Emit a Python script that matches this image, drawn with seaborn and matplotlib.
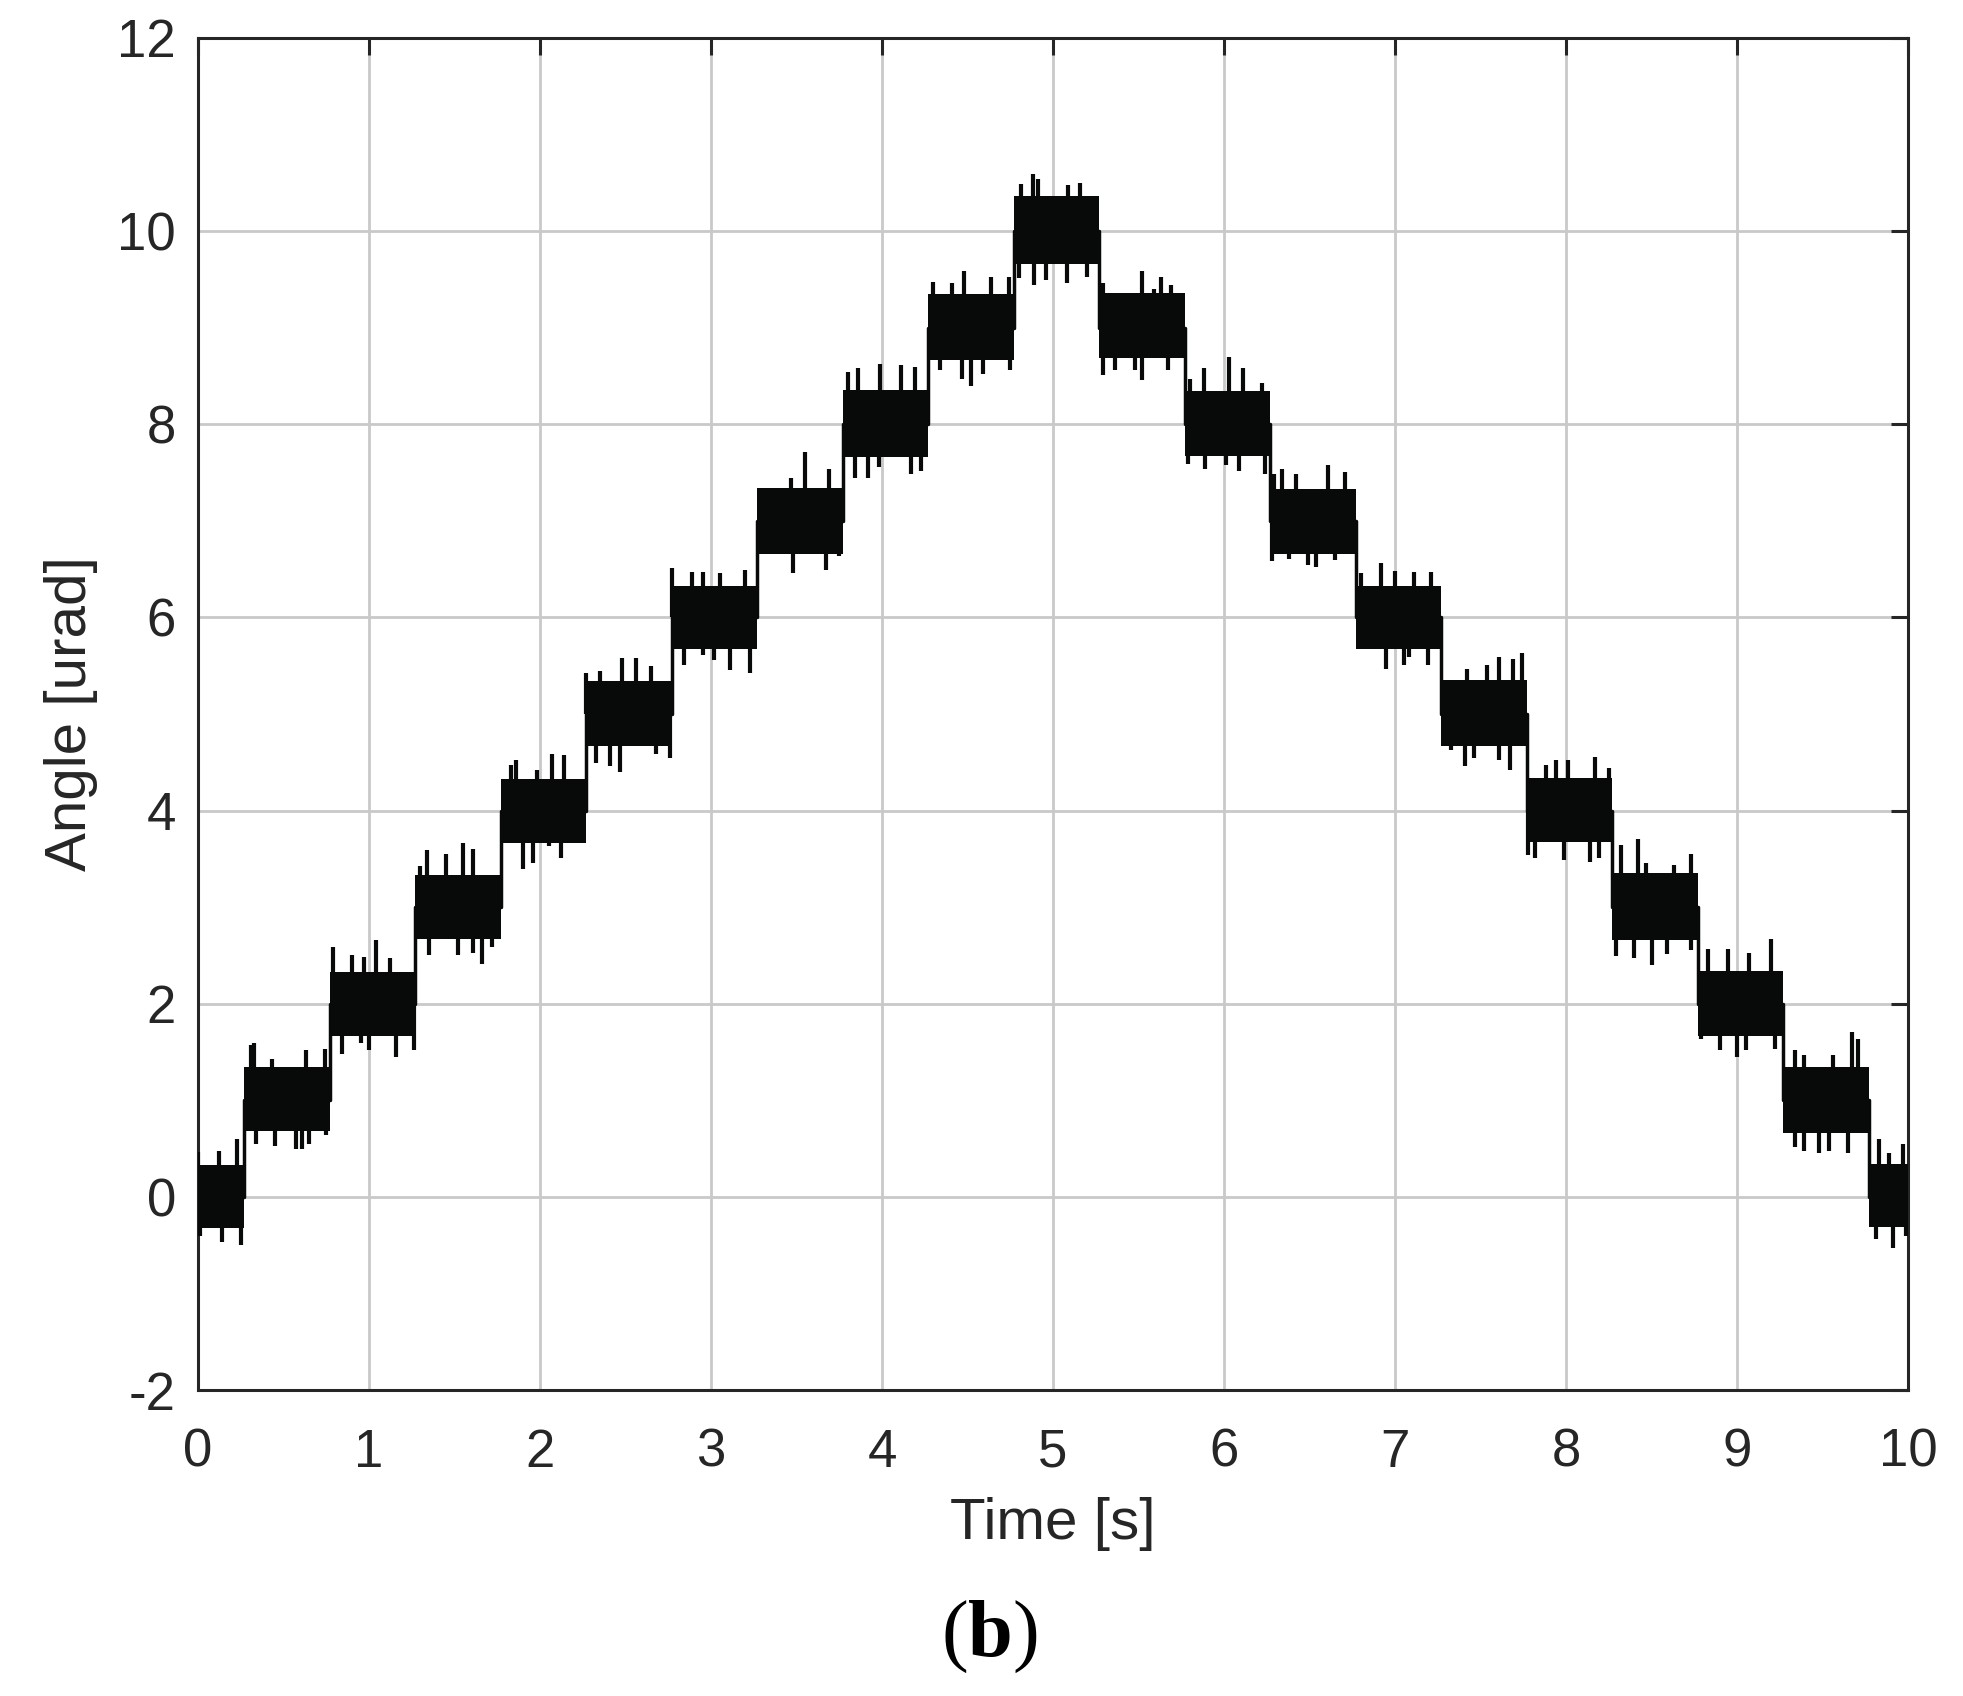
import pandas as pd
import matplotlib.pyplot as plt
import seaborn as sns

# step start times [s] and nominal angle of each step [urad]
step_t = [0.0, 0.27, 0.77, 1.27, 1.77, 2.27, 2.77, 3.27, 3.77, 4.27, 4.77,
          5.27, 5.77, 6.27, 6.77, 7.27, 7.77, 8.27, 8.77, 9.27, 9.77]
levels = [0, 1, 2, 3, 4, 5, 6, 7, 8, 9, 10, 9, 8, 7, 6, 5, 4, 3, 2, 1, 0]

# dense noise band of each step
band_hi = [0.33, 1.34, 2.33, 3.33, 4.33, 5.34, 6.33, 7.34, 8.35, 9.35, 10.36,
           9.36, 8.34, 7.33, 6.33, 5.35, 4.34, 3.35, 2.34, 1.34, 0.34]
band_lo = [-0.32, 0.68, 1.67, 2.67, 3.66, 4.67, 5.67, 6.66, 7.66, 8.67, 9.66,
           8.69, 7.67, 6.66, 5.67, 4.67, 3.67, 2.66, 1.67, 0.66, -0.31]

# spikes sticking out above the band (time, angle)
spike_up_t = [0.00, 0.12, 0.23, 0.31, 0.33, 0.43, 0.63, 0.74, 0.79, 0.90, 0.97,
              1.04, 1.12, 1.30, 1.34, 1.45, 1.55, 1.61, 1.83, 1.86, 1.98, 2.07,
              2.14, 2.27, 2.35, 2.48, 2.56, 2.65, 2.77, 2.89, 2.95, 3.05, 3.20,
              3.47, 3.55, 3.69, 3.80, 3.86, 3.99, 4.11, 4.19, 4.30, 4.41, 4.48,
              4.64, 4.74, 4.81, 4.88, 4.91, 5.09, 5.16, 5.29, 5.52, 5.59, 5.63,
              5.69, 5.80, 5.88, 6.03, 6.11, 6.22, 6.29, 6.34, 6.42, 6.61, 6.71,
              6.80, 6.92, 7.00, 7.11, 7.21, 7.42, 7.54, 7.61, 7.69, 7.74, 7.88,
              7.94, 8.01, 8.17, 8.25, 8.32, 8.42, 8.47, 8.63, 8.73, 8.80, 8.83,
              8.95, 9.07, 9.20, 9.34, 9.39, 9.56, 9.67, 9.71, 9.83, 9.89, 9.97]
spike_up_v = [0.47, 0.48, 0.60, 1.57, 1.59, 1.43, 1.52, 1.53, 2.59, 2.50, 2.48,
              2.66, 2.47, 3.43, 3.59, 3.55, 3.66, 3.60, 4.47, 4.52, 4.42, 4.59,
              4.58, 5.42, 5.45, 5.58, 5.58, 5.50, 6.51, 6.47, 6.47, 6.46, 6.49,
              7.44, 7.71, 7.54, 8.54, 8.58, 8.62, 8.61, 8.59, 9.47, 9.46, 9.59,
              9.52, 9.53, 10.49, 10.59, 10.54, 10.48, 10.50, 9.46, 9.59, 9.40, 9.52,
              9.44, 8.47, 8.58, 8.70, 8.58, 8.43, 7.49, 7.54, 7.49, 7.58, 7.51,
              6.46, 6.56, 6.48, 6.47, 6.47, 5.47, 5.51, 5.59, 5.57, 5.63, 4.47,
              4.52, 4.52, 4.56, 4.44, 3.64, 3.71, 3.46, 3.44, 3.55, 2.34, 2.57,
              2.57, 2.53, 2.67, 1.52, 1.47, 1.47, 1.71, 1.63, 0.60, 0.45, 0.55]

# spikes sticking out below the band (time, angle)
spike_dn_t = [0.01, 0.14, 0.25, 0.34, 0.45, 0.57, 0.61, 0.65, 0.75, 0.84, 0.95,
              1.00, 1.16, 1.26, 1.35, 1.52, 1.61, 1.66, 1.72, 1.90, 1.96, 2.05,
              2.12, 2.23, 2.33, 2.41, 2.47, 2.68, 2.76, 2.84, 2.95, 3.02, 3.11,
              3.23, 3.48, 3.67, 3.75, 3.84, 3.92, 3.98, 4.17, 4.23, 4.34, 4.47,
              4.52, 4.59, 4.75, 4.80, 4.89, 4.96, 5.08, 5.20, 5.29, 5.36, 5.48,
              5.52, 5.67, 5.79, 5.89, 6.01, 6.09, 6.24, 6.28, 6.38, 6.49, 6.54,
              6.65, 6.95, 7.05, 7.08, 7.19, 7.33, 7.41, 7.46, 7.61, 7.67, 7.78,
              7.82, 7.99, 8.14, 8.19, 8.29, 8.40, 8.50, 8.59, 8.73, 8.79, 8.90,
              9.00, 9.05, 9.22, 9.34, 9.39, 9.48, 9.54, 9.65, 9.81, 9.91, 9.99]
spike_dn_v = [-0.41, -0.47, -0.50, 0.55, 0.53, 0.50, 0.50, 0.55, 0.64, 1.48, 1.59,
              1.52, 1.45, 1.52, 2.50, 2.50, 2.53, 2.41, 2.59, 3.40, 3.46, 3.63,
              3.51, 3.66, 4.49, 4.46, 4.40, 4.59, 4.54, 5.51, 5.61, 5.56, 5.46,
              5.42, 6.46, 6.49, 6.64, 7.44, 7.44, 7.56, 7.49, 7.52, 8.56, 8.47,
              8.40, 8.52, 8.56, 9.51, 9.44, 9.49, 9.46, 9.53, 8.51, 8.56, 8.56,
              8.46, 8.56, 7.59, 7.54, 7.58, 7.52, 7.49, 6.58, 6.61, 6.54, 6.52,
              6.59, 5.47, 5.51, 5.59, 5.51, 4.63, 4.46, 4.54, 4.52, 4.42, 3.54,
              3.51, 3.49, 3.47, 3.51, 2.49, 2.47, 2.40, 2.52, 2.56, 1.64, 1.52,
              1.45, 1.52, 1.53, 0.52, 0.48, 0.45, 0.48, 0.45, -0.44, -0.53, -0.40]

x_ticks = [0, 1, 2, 3, 4, 5, 6, 7, 8, 9, 10]
y_ticks = [-2, 0, 2, 4, 6, 8, 10, 12]

sns.set_style("white")
plt.rcParams['font.family'] = ['Liberation Sans', 'DejaVu Sans']
plt.rcParams['axes.unicode_minus'] = False
plt.rcParams['mathtext.fontset'] = 'custom'
plt.rcParams['mathtext.rm'] = 'Liberation Serif'
plt.rcParams['mathtext.bf'] = 'Liberation Serif:bold'

ink = "#070a08"
frame = "#262626"

fig = plt.figure(figsize=(19.63, 16.96), dpi=100)
ax = fig.add_axes([0.1009, 0.1804, 0.8711, 0.7972])

# step edges, last step held until t = 10 s
edges = step_t + [10.0]
df = pd.DataFrame({"t": edges, "level": levels + [levels[-1]]})

ax.fill_between(edges, band_lo + [band_lo[-1]], band_hi + [band_hi[-1]],
                step="post", color=ink, linewidth=0, zorder=3)
sns.lineplot(data=df, x="t", y="level", drawstyle="steps-post", color=ink,
             linewidth=2.5, ax=ax, zorder=4)

# spikes start inside the band of the step they belong to
base_up = [levels[sum(1 for s in step_t if s <= t) - 1] for t in spike_up_t]
base_dn = [levels[sum(1 for s in step_t if s <= t) - 1] for t in spike_dn_t]
ax.vlines(spike_up_t, base_up, spike_up_v, color=ink, linewidth=3.0, zorder=3)
ax.vlines(spike_dn_t, spike_dn_v, base_dn, color=ink, linewidth=3.0, zorder=3)

ax.set_xlim(0, 10)
ax.set_ylim(-2, 12)
ax.set_xticks(x_ticks)
ax.set_yticks(y_ticks)
ax.grid(True, color="#c9c9c9", linewidth=2.0)
ax.set_axisbelow(True)

for s in ax.spines.values():
    s.set_visible(True)
    s.set_color(frame)
    s.set_linewidth(2.2)

ax.tick_params(axis="both", direction="in", length=12, width=2.2, color=frame,
               labelsize=38, labelcolor=frame, top=True, right=True)
ax.tick_params(axis="x", pad=27)
ax.tick_params(axis="y", pad=16)

ax.set_xlabel("Time [s]", fontsize=42, color=frame, labelpad=14)
ax.set_ylabel("Angle [urad]", fontsize=42, color=frame, labelpad=14)

fig.text(0.504, 0.035, r"$(\mathbf{b})$", fontsize=58, ha="center", va="center",
         color="black")

plt.savefig("out.png", dpi=100)
